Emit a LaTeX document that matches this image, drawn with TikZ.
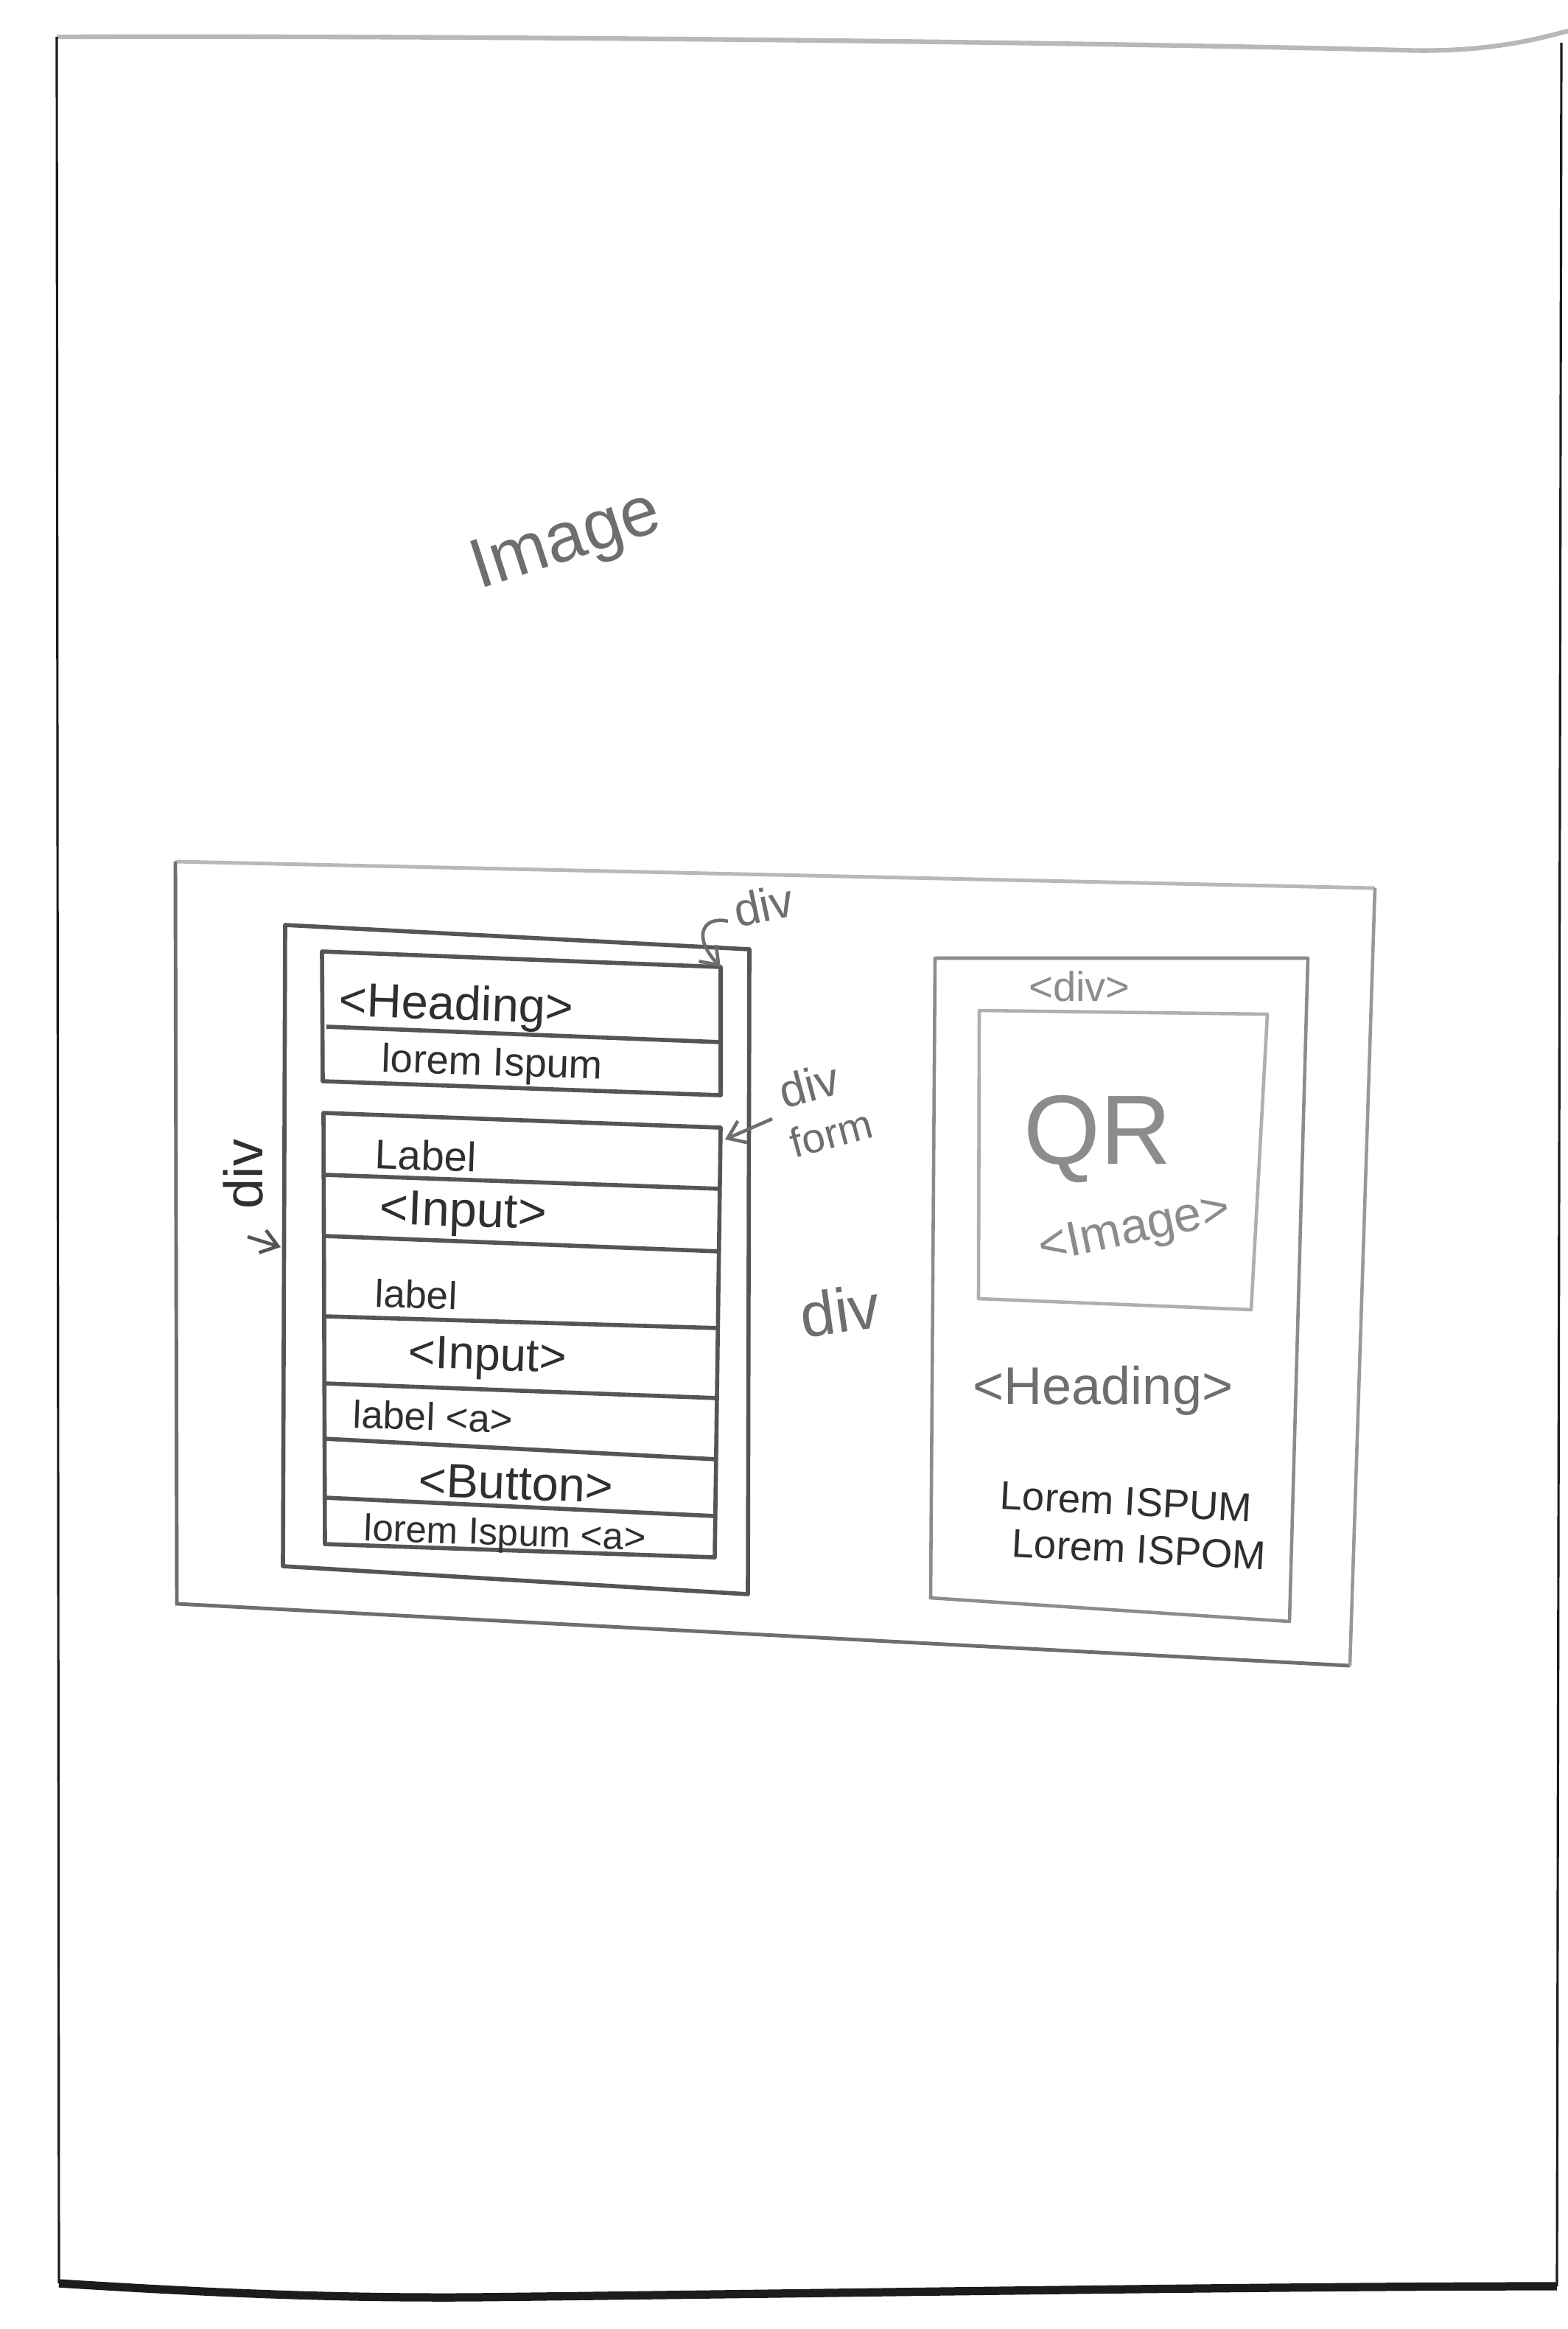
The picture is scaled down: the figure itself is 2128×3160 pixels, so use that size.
\documentclass[tikz,border=0pt]{standalone}
\usepackage{fontspec}
\setmainfont{Liberation Sans}
\usetikzlibrary{arrows.meta}
\definecolor{ink}{HTML}{2F2F2F}
\definecolor{pen}{HTML}{555555}
\definecolor{soft}{HTML}{8C8C8C}
\definecolor{softink}{HTML}{6E6E6E}
\definecolor{faint}{HTML}{B8B8B8}
\definecolor{frame}{HTML}{1C1C1C}
\tikzset{
  hand/.style={font=\fontsize{17}{20}\selectfont, text=ink, inner sep=0pt},
  boxline/.style={draw=pen, line width=1.6pt, line join=round},
  softline/.style={draw=soft, line width=1.3pt, line join=round},
  note/.style={font=\fontsize{19}{22}\selectfont, text=softink, inner sep=0pt},
  pointer/.style={draw=pen, line width=1.3pt, -{Straight Barb[length=2.2mm,width=3.2mm]}},
}
\begin{document}
\begin{tikzpicture}[x=0.1mm,y=-0.1mm]
\useasboundingbox (0,0) rectangle (2128,3160);
\fill[white] (0,0) rectangle (2128,3160);

% sheet border
\draw[faint, line width=1.8pt] (77,50) .. controls (700,48) and (1500,58) .. (1900,68) .. controls (2010,72) and (2080,55) .. (2128,42);
\draw[frame, line width=0.9pt] (77,50) -- (80,3098);
\draw[frame, line width=0.9pt] (2119,58) -- (2113,3102);
\draw[frame, line width=3.2pt] (80,3098) .. controls (300,3112) and (460,3118) .. (640,3117) .. controls (1100,3112) and (1700,3102) .. (2113,3102);

% page title
\node[note, font=\fontsize{27}{30}\selectfont, text=softink, anchor=base west, rotate=18] (title) at (650,800) {Image};

% outer container
\draw[faint, line width=1.4pt] (238,1169) -- (1866,1205);
\draw[draw=softink, line width=1.4pt] (238,1169) -- (240,2176) -- (1832,2260);
\draw[draw=soft!70!faint, line width=1.3pt] (1832,2260) -- (1866,1205);

% left column container
\draw[boxline] (387,1255) -- (1017,1288) -- (1015,2163) -- (384,2125) -- cycle;

% heading block
\coordinate (hdTR) at (978,1312);
\draw[boxline] (437,1291) -- (hdTR) -- (978,1486) -- (438,1467) -- cycle;
\draw[boxline] (443,1393) -- (978,1414);
\node[hand, font=\fontsize{18.5}{20}\selectfont, anchor=base west, rotate=-2] (hhead) at (459,1378) {<Heading>};
\node[hand, font=\fontsize{15.5}{18}\selectfont, anchor=base west, rotate=-2] (hlorem) at (517,1454) {lorem Ispum};

% form block
\coordinate (fmTR) at (978,1530);
\draw[boxline] (439,1510) -- (fmTR) -- (970,2113) -- (441,2095) -- cycle;
\draw[boxline] (441,1594) -- (978,1613);
\draw[boxline] (441,1677) -- (978,1698);
\draw[boxline] (441,1786) -- (977,1802);
\draw[boxline] (441,1877) -- (975,1897);
\draw[boxline] (440,1952) -- (973,1980);
\draw[boxline] (441,2032) -- (971,2057);
\node[hand, font=\fontsize{16}{18}\selectfont, anchor=base west, rotate=-2] (f1) at (508,1585) {Label};
\node[hand, font=\fontsize{19}{20}\selectfont, anchor=base west, rotate=-2] (f2) at (514,1660) {<Input>};
\node[hand, font=\fontsize{15}{18}\selectfont, anchor=base west, rotate=-2] (f3) at (508,1773) {label};
\node[hand, font=\fontsize{18}{20}\selectfont, anchor=base west, rotate=-2] (f4) at (553,1855) {<Input>};
\node[hand, font=\fontsize{15}{18}\selectfont, anchor=base west, rotate=-2] (f5) at (478,1937) {label <a>};
\node[hand, font=\fontsize{18.5}{20}\selectfont, anchor=base west, rotate=-2] (f6) at (567,2030) {<Button>};
\node[hand, font=\fontsize{14.5}{18}\selectfont, anchor=base west, rotate=-2] (f7) at (493,2090) {lorem Ispum <a>};

% annotations of the left column
\node[note, font=\fontsize{21}{22}\selectfont, text=ink, rotate=90] (divleft) at (330,1593) {div};
\coordinate (dlS) at (336,1678);
\coordinate (dlE) at (381,1692);
\draw[pointer] (dlS) -- (dlE);

\node[note, font=\fontsize{18}{20}\selectfont, rotate=12] (divtop) at (1036,1228) {div};
\coordinate (dtS) at (988,1250);
\draw[pointer, draw=softink] (dtS) .. controls (955,1242) and (938,1270) .. (hdTR);

\node[note, font=\fontsize{18}{20}\selectfont, rotate=15] (divform) at (1098,1472) {div};
\node[note, font=\fontsize{16}{18}\selectfont, rotate=15] (formlbl) at (1128,1538) {form};
\coordinate (dfS) at (1048,1518);
\coordinate (dfE) at (984,1546);
\draw[pointer, draw=softink] (dfS) -- (dfE);

\node[note, font=\fontsize{24}{26}\selectfont, rotate=8] (divmid) at (1140,1778) {div};

% right card
\draw[softline] (1269,1300) -- (1775,1300) -- (1750,2200) -- (1263,2168) -- cycle;
\draw[softline, draw=faint!80!soft] (1329,1371) -- (1720,1376) -- (1698,1777) -- (1328,1762) -- cycle;
\node[note, font=\fontsize{16}{18}\selectfont, text=soft] (cdiv) at (1465,1338) {<div>};
\node[note, font=\fontsize{38}{40}\selectfont, text=soft] (qr) at (1490,1545) {QR};
\node[note, font=\fontsize{19}{20}\selectfont, text=soft, rotate=12] (cimg) at (1540,1670) {<Image>};
\node[note, font=\fontsize{20.5}{22}\selectfont, text=softink, anchor=base west] (chead) at (1320,1905) {<Heading>};
\node[hand, font=\fontsize{15.5}{18}\selectfont, anchor=base west, rotate=-3] (cl1) at (1356,2047) {Lorem ISPUM};
\node[hand, font=\fontsize{15.5}{18}\selectfont, anchor=base west, rotate=-3] (cl2) at (1372,2112) {Lorem ISPOM};
\end{tikzpicture}
\end{document}
